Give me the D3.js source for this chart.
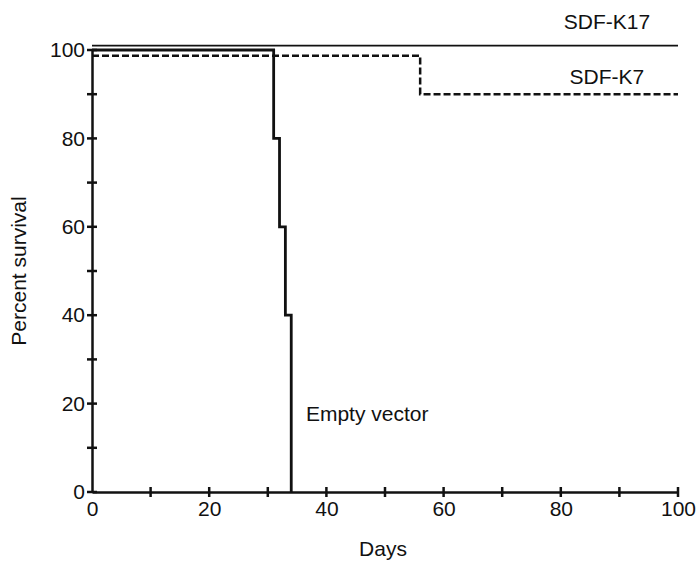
<!DOCTYPE html>
<html><head><meta charset="utf-8">
<script src="https://cdn.jsdelivr.net/npm/d3@7"></script>
<style>body{margin:0;background:#fff}text{font-family:"Liberation Sans",Arial,sans-serif;fill:#111}</style>
</head><body><svg id="c" width="700" height="563"></svg>
<script>
// step-function survival data: [day, percent]
const k17 = [[0, 101], [100, 101]];
const k7 = [[0, 98.7], [56, 98.7], [56, 90], [100, 90]];
const emptyVec = [[0, 100], [31, 100], [31, 80], [32, 80], [32, 60], [33, 60], [33, 40], [34, 40], [34, 0]];
const xTicks = [0, 20, 40, 60, 80, 100];
const yTicks = [0, 20, 40, 60, 80, 100];
const minorTicks = [10, 30, 50, 70, 90];
const labels = [
  {text: "SDF-K17", day: 80.5, pct: 104.8},
  {text: "SDF-K7", day: 81.5, pct: 92.3},
  {text: "Empty vector", day: 36.5, pct: 16}
];

const svg = d3.select("#c");
const x = d3.scaleLinear().domain([0, 100]).range([92, 678]);
const y = d3.scaleLinear().domain([0, 100]).range([492, 50]);
const line = d3.line().x(d => x(d[0])).y(d => y(d[1]));

// axes
const xa = svg.append("g").attr("transform", `translate(0,${y(0)})`)
  .call(d3.axisBottom(x).tickValues(xTicks).tickSize(0).tickPadding(9));
const ya = svg.append("g").attr("transform", `translate(${x(0)},0)`)
  .call(d3.axisLeft(y).tickValues(yTicks).tickSize(0).tickPadding(7));
[xa, ya].forEach(a => {
  a.select(".domain").attr("stroke", "#111").attr("stroke-width", 2.5);
  a.selectAll("text").attr("font-size", 21).style("font-family", "Liberation Sans, Arial, sans-serif").attr("fill", "#111");
});
// crossing tick marks
svg.selectAll(".xt").data(xTicks.concat(minorTicks).filter(d => d > 0)).join("line")
  .attr("x1", d => x(d)).attr("x2", d => x(d)).attr("y1", y(0) - 5).attr("y2", y(0) + 5)
  .attr("stroke", "#111").attr("stroke-width", 2.5);
svg.selectAll(".yt").data(yTicks.concat(minorTicks)).join("line")
  .attr("y1", d => y(d)).attr("y2", d => y(d)).attr("x1", x(0) - 5).attr("x2", x(0) + 5)
  .attr("stroke", "#111").attr("stroke-width", 2.5);

// curves
svg.append("path").attr("d", line(k17)).attr("fill", "none").attr("stroke", "#111").attr("stroke-width", 1.8);
svg.append("path").attr("d", line(k7)).attr("fill", "none").attr("stroke", "#111").attr("stroke-width", 2.5).attr("stroke-dasharray", "7,3");
svg.append("path").attr("d", line(emptyVec)).attr("fill", "none").attr("stroke", "#111").attr("stroke-width", 2.8);

svg.selectAll(".lbl").data(labels).join("text")
  .attr("x", d => x(d.day)).attr("y", d => y(d.pct)).attr("font-size", 21).text(d => d.text);

svg.append("text").attr("x", 383).attr("y", 556).attr("text-anchor", "middle").attr("font-size", 21).text("Days");
svg.append("text").attr("transform", "translate(26,271) rotate(-90)").attr("text-anchor", "middle").attr("font-size", 21).text("Percent survival");
</script></body></html>
